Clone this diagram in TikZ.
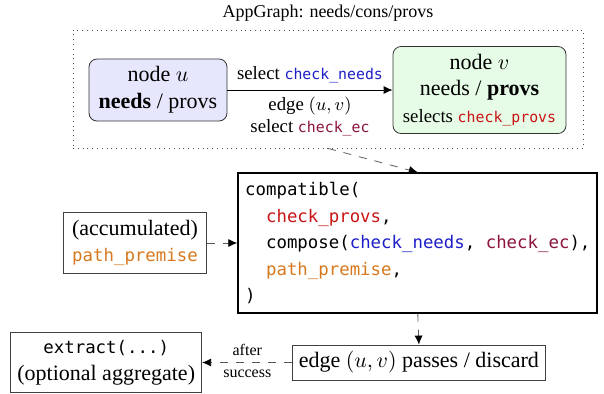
\documentclass[tikz,border=0pt]{standalone}
\usepackage{fontspec}
\setmainfont{Liberation Serif}
\setmonofont{DejaVu Sans Mono}[Scale=0.79]
\usetikzlibrary{arrows.meta}

\definecolor{needscol}{RGB}{30,30,200}
\definecolor{provscol}{RGB}{200,20,20}
\definecolor{eccol}{RGB}{140,20,60}
\definecolor{premcol}{RGB}{215,120,30}
\definecolor{ufill}{RGB}{230,230,252}
\definecolor{vfill}{RGB}{230,252,230}

\newcommand{\cneeds}{\textcolor{needscol}{\texttt{check\_needs}}}
\newcommand{\cprovs}{\textcolor{provscol}{\texttt{check\_provs}}}
\newcommand{\cec}{\textcolor{eccol}{\texttt{check\_ec}}}
\newcommand{\cprem}{\textcolor{premcol}{\texttt{path\_premise}}}
\newcommand{\ind}{\phantom{xx}}
\newcommand{\smallsz}{\fontsize{9.4}{11}\selectfont}
\newcommand{\tinysz}{\fontsize{8}{9.5}\selectfont}

\begin{document}
\begin{tikzpicture}[x=0.5pt,y=-0.5pt,>={Latex[length=4.5pt,width=4pt]},
    font=\fontsize{11}{13.4}\selectfont,
    rbox/.style={draw=black!80, rounded corners=4pt, align=center, inner sep=3pt},
    pbox/.style={draw=black!75, align=center, inner sep=3pt},
    flow/.style={->, draw=black!65, dash pattern=on 4pt off 4pt, arrows={-Latex[length=4.5pt,width=4pt,color=black]}}]
    \useasboundingbox (0,0) rectangle (604,393);

    % AppGraph group
    \node[font=\fontsize{9}{11}\selectfont] (title) at (328,13) {AppGraph: needs/cons/provs};
    \node[draw=black!70, dotted, minimum width=255pt, minimum height=59pt] (grp) at (328,89) {};
    \node[rbox, fill=ufill, minimum width=69pt, minimum height=31pt] (u) at (158,90) {node $u$\\\textbf{needs} / provs};
    \node[rbox, fill=vfill, minimum width=86.5pt, minimum height=43.5pt] (v) at (479.5,90) {node $v$\\needs / \textbf{provs}\\{\smallsz selects \cprovs}};
    \draw[->] (u) -- (v)
        node[midway, above, font=\smallsz] {select \cneeds}
        node[midway, below, align=center, font=\smallsz] {edge $(u,v)$\\select \cec};

    % compatibility check
    \node[draw, line width=1pt, align=left, inner sep=3pt, minimum width=179.5pt, minimum height=69.7pt,
        font=\fontsize{11}{13.25}\selectfont\ttfamily] (comp) at (417.8,243)
        {compatible(\\\ind\cprovs,\\\ind compose(\cneeds, \cec),\\\ind\cprem,\\)};
    \node[pbox, minimum width=71.7pt, minimum height=30.3pt] (acc) at (135,243) {(accumulated)\\\cprem};
    \draw[flow] (grp.south) -- (comp.north);
    \draw[flow] (acc) -- (comp);

    % result
    \node[pbox, minimum width=126pt, minimum height=17.5pt] (pass) at (418.9,362.5) {edge $(u,v)$ passes / discard};
    \node[pbox, minimum width=95.5pt, minimum height=30pt] (ext) at (106.2,362.5) {\texttt{extract(...)}\\(optional aggregate)};
    \draw[flow] (comp.south) -- (pass.north);
    \draw[flow] (pass) -- (ext)
        node[midway, above, font=\tinysz] {after}
        node[midway, below, font=\tinysz] {success};
\end{tikzpicture}
\end{document}
